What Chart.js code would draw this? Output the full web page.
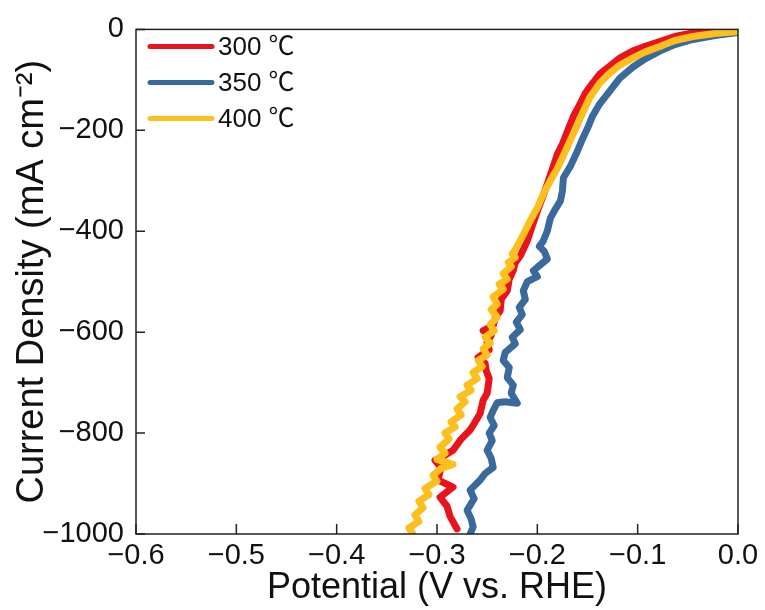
<!DOCTYPE html>
<html>
<head>
<meta charset="utf-8">
<script src="https://cdn.jsdelivr.net/npm/chart.js@4.4.1/dist/chart.umd.min.js"></script>
<style>
  body { margin: 0; background: #fff; }
  #wrap { width: 765px; height: 610px; }
</style>
</head>
<body>
<div id="wrap"><canvas id="lsvChart"></canvas></div>
<script>
// series labels
const seriesLabels = ["300 \u2103", "350 \u2103", "400 \u2103"];

// potential (V vs. RHE) / current density (mA cm-2)
const potential300 = [0.000, -0.023, -0.045, -0.063, -0.078, -0.093, -0.105, -0.118, -0.128, -0.138,
    -0.145, -0.152, -0.157, -0.164, -0.170, -0.175, -0.180, -0.185, -0.190, -0.195,
    -0.200, -0.205, -0.210, -0.217, -0.222, -0.224, -0.228, -0.230, -0.236, -0.237,
    -0.242, -0.244, -0.254, -0.246, -0.250, -0.248, -0.259, -0.252, -0.251, -0.248,
    -0.250, -0.254, -0.257, -0.262, -0.267, -0.276, -0.284, -0.293, -0.302, -0.296,
    -0.299, -0.284, -0.297, -0.290, -0.287, -0.280];
const current300 = [-1, -4, -7, -14, -24, -34, -43, -57, -73, -89,
    -107, -126, -146, -172, -202, -227, -247, -277, -306, -334,
    -360, -389, -419, -449, -462, -478, -495, -518, -535, -557,
    -572, -587, -597, -606, -620, -635, -650, -662, -676, -692,
    -721, -735, -761, -778, -794, -812, -834, -845, -854, -868,
    -893, -907, -927, -945, -965, -990];

const potential350 = [0.000, -0.023, -0.045, -0.063, -0.078, -0.093, -0.105, -0.118, -0.128, -0.138,
    -0.145, -0.150, -0.155, -0.160, -0.167, -0.174, -0.175, -0.177, -0.182, -0.187,
    -0.190, -0.194, -0.198, -0.193, -0.190, -0.196, -0.204, -0.200, -0.210, -0.214,
    -0.212, -0.218, -0.215, -0.221, -0.217, -0.225, -0.222, -0.232, -0.234, -0.228,
    -0.230, -0.224, -0.226, -0.220, -0.232, -0.240, -0.244, -0.247, -0.243, -0.248,
    -0.245, -0.250, -0.246, -0.244, -0.252, -0.257, -0.267, -0.263, -0.270, -0.266,
    -0.264, -0.267];
const current350 = [-6, -12, -20, -30, -43, -59, -75, -97, -123, -148,
    -172, -196, -217, -241, -271, -294, -320, -340, -356, -374,
    -399, -419, -430, -440, -455, -465, -478, -490, -500, -518,
    -535, -551, -565, -580, -595, -610, -623, -640, -656, -670,
    -690, -705, -721, -741, -738, -740, -755, -769, -785, -800,
    -815, -834, -850, -868, -880, -893, -913, -930, -953, -970,
    -986, -1000];

const potential400 = [0.000, -0.023, -0.045, -0.063, -0.078, -0.093, -0.105, -0.118, -0.128, -0.138,
    -0.148, -0.155, -0.164, -0.172, -0.180, -0.187, -0.194, -0.200, -0.207, -0.214,
    -0.221, -0.225, -0.222, -0.229, -0.226, -0.234, -0.230, -0.238, -0.234, -0.244,
    -0.240, -0.246, -0.240, -0.247, -0.243, -0.252, -0.247, -0.254, -0.250, -0.259,
    -0.255, -0.264, -0.260, -0.270, -0.266, -0.277, -0.272, -0.280, -0.276, -0.286,
    -0.282, -0.292, -0.288, -0.297, -0.292, -0.300, -0.284, -0.296, -0.304, -0.300,
    -0.312, -0.308, -0.318, -0.314, -0.322, -0.318, -0.328, -0.324];
const current400 = [-4, -8, -14, -22, -34, -45, -57, -71, -87, -107,
    -136, -166, -206, -241, -275, -300, -326, -354, -379, -407,
    -433, -445, -452, -462, -470, -484, -495, -505, -515, -530,
    -545, -555, -570, -585, -597, -610, -622, -633, -645, -656,
    -668, -680, -692, -705, -715, -728, -738, -752, -764, -778,
    -788, -800, -812, -828, -840, -852, -862, -870, -884, -895,
    -910, -922, -935, -948, -962, -975, -988, -1000];

const xTicks = [-0.6, -0.5, -0.4, -0.3, -0.2, -0.1, 0.0];
const yTicks = [0, -200, -400, -600, -800, -1000];

const colors = ["#e8141c", "#3a6a9c", "#fcbf1e"];
const FONT = "'Liberation Sans', Arial, 'Noto Sans CJK SC', sans-serif";

function toPoints(xs, ys) {
    return xs.map((x, i) => ({ x: x, y: ys[i] }));
}

function minus(str) {
    return str.replace("-", "\u2212");
}

// frame + inward ticks
const framePlugin = {
    id: "frame",
    afterDatasetsDraw(chart) {
        const { ctx, chartArea: a, scales } = chart;
        ctx.save();
        ctx.strokeStyle = "#222";
        ctx.lineWidth = 1.5;
        ctx.strokeRect(a.left, a.top, a.right - a.left, a.bottom - a.top);
        ctx.beginPath();
        xTicks.forEach((v) => {
            const px = scales.x.getPixelForValue(v);
            ctx.moveTo(px, a.bottom);
            ctx.lineTo(px, a.bottom - 10);
        });
        yTicks.forEach((v) => {
            const py = scales.y.getPixelForValue(v);
            ctx.moveTo(a.left, py);
            ctx.lineTo(a.left + 9, py);
        });
        ctx.stroke();
        ctx.restore();
    }
};

// legend inside the plot, top left
const insideLegend = {
    id: "insideLegend",
    afterDraw(chart) {
        const { ctx, chartArea: a } = chart;
        ctx.save();
        ctx.font = "26px " + FONT;
        ctx.textBaseline = "middle";
        chart.data.datasets.forEach((ds, i) => {
            const y = a.top + 17 + i * 36;
            ctx.strokeStyle = ds.borderColor;
            ctx.lineWidth = 5;
            ctx.lineCap = "round";
            ctx.beginPath();
            ctx.moveTo(a.left + 14, y);
            ctx.lineTo(a.left + 76, y);
            ctx.stroke();
            ctx.fillStyle = "#111";
            ctx.fillText(ds.label, a.left + 82, y + 1);
        });
        ctx.restore();
    }
};

const series = [
    toPoints(potential300, current300),
    toPoints(potential350, current350),
    toPoints(potential400, current400)
];

new Chart(document.getElementById("lsvChart"), {
    type: "line",
    data: {
        datasets: series.map((pts, i) => ({
            label: seriesLabels[i],
            data: pts,
            borderColor: colors[i],
            backgroundColor: colors[i],
            borderWidth: 7,
            borderJoinStyle: "round",
            borderCapStyle: "round",
            pointRadius: 0,
            tension: 0,
            order: 3 - i
        }))
    },
    options: {
        responsive: true,
        maintainAspectRatio: false,
        animation: false,
        layout: { padding: { top: 28, right: 27, left: 0, bottom: 0 } },
        plugins: {
            legend: { display: false },
            tooltip: { enabled: false }
        },
        scales: {
            x: {
                type: "linear",
                min: -0.6,
                max: 0,
                afterBuildTicks(scale) {
                    scale.ticks = xTicks.map((v) => ({ value: v }));
                },
                afterFit(scale) { scale.height = 76; },
                grid: { display: false, drawTicks: false },
                border: { display: false },
                ticks: {
                    color: "#111",
                    padding: 5,
                    font: { family: FONT, size: 29 },
                    callback: (v) => minus((Math.round(v * 10) / 10).toFixed(1))
                },
                title: {
                    display: true,
                    text: "Potential (V vs. RHE)",
                    color: "#111",
                    padding: { top: 0, bottom: 0 },
                    font: { family: FONT, size: 36 }
                }
            },
            y: {
                type: "linear",
                min: -1000,
                max: 0,
                afterBuildTicks(scale) {
                    scale.ticks = yTicks.map((v) => ({ value: v }));
                },
                afterFit(scale) { scale.width = 136; },
                grid: { display: false, drawTicks: false },
                border: { display: false },
                ticks: {
                    color: "#111",
                    padding: 12,
                    font: { family: FONT, size: 29 },
                    callback: (v) => minus(String(v))
                },
                title: {
                    display: true,
                    text: "Current Density (mA cm\u207B\u00B2)",
                    color: "#111",
                    padding: { top: 10, bottom: 0 },
                    font: { family: FONT, size: 38 }
                }
            }
        }
    },
    plugins: [framePlugin, insideLegend]
});
</script>
</body>
</html>
